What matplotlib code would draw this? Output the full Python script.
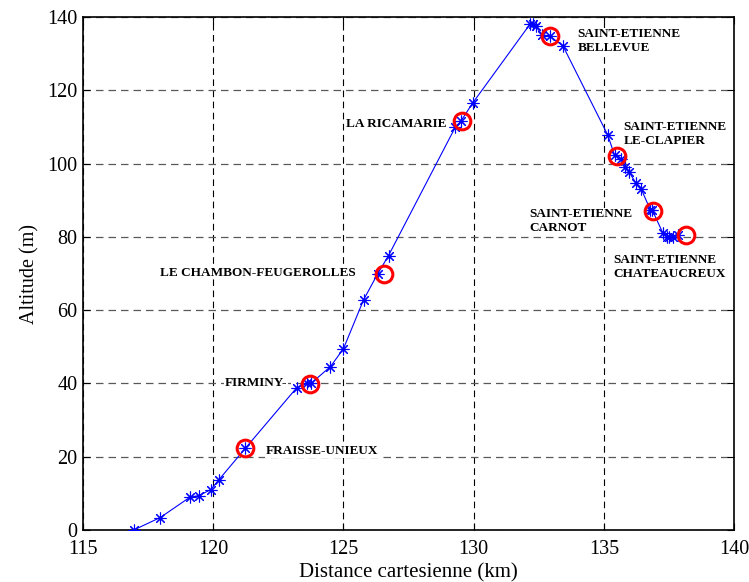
import numpy as np
import matplotlib
matplotlib.use("Agg")
import matplotlib.pyplot as plt

# profil altitude / distance (points mesures)
distance = [116.94, 117.96, 119.09, 119.44, 119.9, 120.2, 121.23, 123.2, 123.6, 123.75,
            124.5, 125.0, 125.77, 126.32, 126.73, 129.3, 129.5, 129.97, 132.17, 132.27,
            132.38, 132.63, 132.92, 133.43, 135.15, 135.41, 135.67, 135.83, 135.96,
            136.24, 136.44, 136.79, 136.86, 137.27, 137.42, 137.52, 137.65, 137.85]
altitude = [0, 3.4, 8.9, 9.4, 11.0, 13.6, 22.3, 38.8, 40.0, 40.0,
            44.6, 49.5, 62.8, 70.0, 74.9, 110.0, 111.5, 116.6, 138.1, 138.1,
            137.5, 135.1, 134.8, 132.1, 107.8, 102.3, 101.2, 99.2, 97.8,
            94.6, 93.0, 87.3, 87.3, 81.0, 80.0, 79.9, 79.9, 80.5]

# gares
gare_x = [121.23, 123.7, 126.54, 129.56, 132.92, 135.5, 136.9, 138.15]
gare_y = [22.3, 39.8, 70.0, 111.6, 134.8, 102.0, 87.0, 80.5]
gare_nom = ["FRAISSE-UNIEUX", "FIRMINY-", "LE CHAMBON-FEUGEROLLES", "LA RICAMARIE",
            "SAINT-ETIENNE\nBELLEVUE", "SAINT-ETIENNE\nLE-CLAPIER",
            "SAINT-ETIENNE\nCARNOT", "SAINT-ETIENNE\nCHATEAUCREUX"]
texte_x = [122.0, 120.44, 117.94, 125.1, 134.0, 135.76, 132.15, 135.35]
texte_y = [21.6, 40.2, 70.2, 110.7, 133.4, 108.0, 84.3, 71.8]

fig = plt.figure(figsize=(7.49, 5.82), dpi=100)
ax = fig.add_axes([0.111, 0.0893, 0.869, 0.8815])

ax.plot(distance, altitude, color="blue", linewidth=0.8,
        marker=(8, 2, 0), markersize=8.5, markeredgewidth=0.8, zorder=3)
ax.plot(gare_x, gare_y, linestyle="none", marker="o", markersize=12,
        markerfacecolor="none", markeredgecolor="red", markeredgewidth=2.2, zorder=4)

for i in range(len(gare_nom)):
    ax.text(texte_x[i], texte_y[i], gare_nom[i], ha="left", va="center",
            fontsize=9.5, fontweight="bold", family="Liberation Serif",
            linespacing=1.2, zorder=2,
            bbox=dict(facecolor="white", edgecolor="none", pad=0.5))

ax.set_xlim(115, 140)
ax.set_ylim(0, 140)
ax.set_xticks(np.arange(115, 141, 5))
ax.set_yticks(np.arange(0, 141, 20))
ax.xaxis.grid(True, color="black", linestyle=(0, (6, 4)), linewidth=0.8)
ax.yaxis.grid(True, color="0.35", linestyle=(0, (6, 4)), linewidth=0.9)
ax.set_axisbelow(True)

for lab in ax.get_xticklabels() + ax.get_yticklabels():
    lab.set_family("Liberation Serif")
    lab.set_fontsize(14.5)

ax.tick_params(direction="in", length=5, width=0.8, top=True, right=True)
ax.tick_params(axis="x", pad=7)
ax.tick_params(axis="y", pad=4)
for s in ax.spines.values():
    s.set_linewidth(1.2)

ax.set_xlabel("Distance cartesienne (km)", family="Liberation Serif", fontsize=15, labelpad=3)
ax.set_ylabel("Altitude (m)", family="Liberation Serif", fontsize=14.5, labelpad=6)

plt.savefig("out.png", dpi=100)
